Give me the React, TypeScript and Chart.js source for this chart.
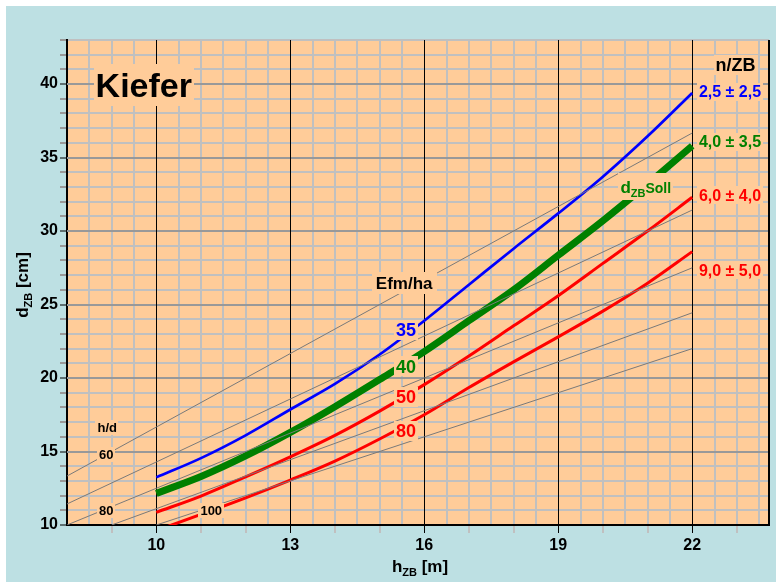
import React, { useEffect, useRef } from 'react';
import { Chart, registerables } from 'chart.js';

Chart.register(...registerables);

// Stand height h_ZB [m] at which the target diameter curves are given
const heights = [10, 11, 12, 13, 14, 15, 16, 17, 18, 19, 20, 21, 22];

// Target diameter d_ZB [cm] per number of future crop trees (n/ZB)
const d25 = [13.24, 14.55, 16.1, 17.86, 19.6, 21.6, 23.9, 26.35, 28.8, 31.2, 33.7, 36.45, 39.4];
const d40 = [12.15, 13.3, 14.7, 16.3, 18.05, 19.9, 21.8, 23.9, 26.0, 28.35, 30.7, 33.2, 35.8];
const d60 = [10.86, 11.97, 13.28, 14.64, 16.1, 17.75, 19.55, 21.5, 23.55, 25.6, 27.8, 30.0, 32.3];
const d90 = [9.62, 10.72, 11.85, 13.06, 14.35, 15.85, 17.5, 19.35, 21.1, 22.8, 24.55, 26.45, 28.6];

// Lines of constant slenderness h/d
const hdRatios = [60, 70, 80, 90, 100];
const hdStartH = [8, 8, 8, 9, 10];
const hdStartD = [13.33, 11.43, 10, 10, 10];
const hdEndH = [22, 22, 22, 22, 22];
const hdEndD = [36.67, 31.43, 27.5, 24.44, 22];

// Axis ticks
const xLabelTicks = [10, 13, 16, 19, 22];
const yLabelTicks = [10, 15, 20, 25, 30, 35, 40];

// Legend texts
const nzbTitle = 'n/ZB';
const nzbLabels = ['2,5 ± 2,5', '4,0 ± 3,5', '6,0 ± 4,0', '9,0 ± 5,0'];
const efmTitle = 'Efm/ha';
const efmLabels = ['35', '40', '50', '80'];
const hdTitle = 'h/d';

const FONT = '"Liberation Sans", Arial, Helvetica, sans-serif';
const PEACH = '#FFCC99';
const SKY = '#BDE0E3';
const BLUE = '#0000FF';
const GREEN = '#008000';
const RED = '#FF0000';

type Part = { text: string; size: number; dy?: number };
type Note = {
  h: number;
  d: number;
  parts: Part[];
  color: string;
  boxH: number;
  align?: 'center' | 'left';
  padX?: number;
};

const notes: Note[] = [
  { h: 9.72, d: 39.96, parts: [{ text: 'Kiefer', size: 34 }], color: '#000', boxH: 42 },
  { h: 22.97, d: 41.32, parts: [{ text: nzbTitle, size: 18 }], color: '#000', boxH: 20 },
  { h: 22.15, d: 39.48, parts: [{ text: nzbLabels[0], size: 16 }], color: BLUE, boxH: 18, align: 'left' },
  { h: 22.15, d: 36.09, parts: [{ text: nzbLabels[1], size: 16 }], color: GREEN, boxH: 18, align: 'left' },
  { h: 22.15, d: 32.42, parts: [{ text: nzbLabels[2], size: 16 }], color: RED, boxH: 18, align: 'left' },
  { h: 22.15, d: 27.32, parts: [{ text: nzbLabels[3], size: 16 }], color: RED, boxH: 18, align: 'left' },
  {
    h: 20.96,
    d: 33.0,
    parts: [
      { text: 'd', size: 17 },
      { text: 'ZB', size: 11, dy: 4 },
      { text: 'Soll', size: 14 },
    ],
    color: GREEN,
    boxH: 27,
  },
  { h: 15.55, d: 26.5, parts: [{ text: efmTitle, size: 17 }], color: '#000', boxH: 22, padX: 4 },
  { h: 15.59, d: 23.28, parts: [{ text: efmLabels[0], size: 18 }], color: BLUE, boxH: 20 },
  { h: 15.59, d: 20.8, parts: [{ text: efmLabels[1], size: 18 }], color: GREEN, boxH: 20 },
  { h: 15.59, d: 18.73, parts: [{ text: efmLabels[2], size: 18 }], color: RED, boxH: 20 },
  { h: 15.59, d: 16.42, parts: [{ text: efmLabels[3], size: 18 }], color: RED, boxH: 20 },
  { h: 8.9, d: 16.62, parts: [{ text: hdTitle, size: 13 }], color: '#000', boxH: 15 },
  { h: 8.88, d: 14.79, parts: [{ text: String(hdRatios[0]), size: 13 }], color: '#000', boxH: 15 },
  { h: 8.88, d: 11.02, parts: [{ text: String(hdRatios[2]), size: 13 }], color: '#000', boxH: 15 },
  { h: 11.23, d: 11.02, parts: [{ text: String(hdRatios[4]), size: 13 }], color: '#000', boxH: 15 },
];

const isMajorX = (v: number) => xLabelTicks.includes(v);

function drawParts(ctx: CanvasRenderingContext2D, x: number, baseline: number, parts: Part[]) {
  let cx = x;
  for (const p of parts) {
    ctx.font = `bold ${p.size}px ${FONT}`;
    ctx.fillText(p.text, cx, baseline + (p.dy || 0));
    cx += ctx.measureText(p.text).width;
  }
}

function partsWidth(ctx: CanvasRenderingContext2D, parts: Part[]) {
  let w = 0;
  for (const p of parts) {
    ctx.font = `bold ${p.size}px ${FONT}`;
    w += ctx.measureText(p.text).width;
  }
  return w;
}

const backgroundPlugin = {
  id: 'plotBackground',
  beforeDraw(chart: any) {
    const { ctx, chartArea } = chart;
    ctx.save();
    ctx.fillStyle = PEACH;
    ctx.fillRect(chartArea.left, chartArea.top, chartArea.right - chartArea.left, chartArea.bottom - chartArea.top);
    ctx.restore();
  },
  // emphasised grid lines on top of the light mesh
  beforeDatasetsDraw(chart: any) {
    const { ctx, chartArea } = chart;
    const xs = chart.scales.x;
    const ys = chart.scales.y;
    ctx.save();
    ctx.fillStyle = '#999999';
    for (const v of yLabelTicks) {
      if (v === 10) continue;
      const y = Math.round(ys.getPixelForValue(v));
      ctx.fillRect(chartArea.left, y - 1, chartArea.right - chartArea.left, 2);
    }
    ctx.fillStyle = '#000';
    for (const v of xLabelTicks) {
      const x = Math.round(xs.getPixelForValue(v));
      ctx.fillRect(x, chartArea.top, 1, chartArea.bottom - chartArea.top);
    }
    ctx.restore();
  },
};

const notesPlugin = {
  id: 'boxedNotes',
  afterDatasetsDraw(chart: any) {
    const { ctx } = chart;
    const xs = chart.scales.x;
    const ys = chart.scales.y;
    ctx.save();
    ctx.textAlign = 'left';
    ctx.textBaseline = 'alphabetic';
    for (const n of notes) {
      const px = xs.getPixelForValue(n.h);
      const py = ys.getPixelForValue(n.d);
      const w = partsWidth(ctx, n.parts);
      const padX = n.padX ?? 2;
      const left = n.align === 'left' ? px : px - w / 2;
      ctx.fillStyle = PEACH;
      ctx.fillRect(Math.round(left - padX), Math.round(py - n.boxH / 2), Math.round(w + 2 * padX), n.boxH);
      ctx.fillStyle = n.color;
      const main = n.parts[0].size;
      drawParts(ctx, left, py + main * 0.36, n.parts);
    }
    ctx.restore();
  },
  afterDraw(chart: any) {
    const { ctx, chartArea } = chart;
    ctx.save();
    // right frame line
    ctx.strokeStyle = '#000';
    ctx.lineWidth = 2;
    ctx.beginPath();
    ctx.moveTo(chartArea.right, chartArea.top);
    ctx.lineTo(chartArea.right, chartArea.bottom + 1);
    ctx.stroke();

    // axis titles
    ctx.fillStyle = '#000';
    ctx.textBaseline = 'alphabetic';
    const xParts: Part[] = [
      { text: 'h', size: 17 },
      { text: 'ZB', size: 11, dy: 4 },
      { text: ' [m]', size: 17 },
    ];
    const xw = partsWidth(ctx, xParts);
    drawParts(ctx, 414 - xw / 2, 566, xParts);

    const yParts: Part[] = [
      { text: 'd', size: 17 },
      { text: 'ZB', size: 11, dy: 4 },
      { text: ' [cm]', size: 17 },
    ];
    const yw = partsWidth(ctx, yParts);
    ctx.translate(22, 279);
    ctx.rotate(-Math.PI / 2);
    drawParts(ctx, -yw / 2, 0, yParts);
    ctx.restore();
  },
};

function curve(values: number[], color: string, width: number) {
  return {
    data: heights.map((h, i) => ({ x: h, y: values[i] })),
    borderColor: color,
    borderWidth: width,
    pointRadius: 0,
    cubicInterpolationMode: 'monotone' as const,
    fill: false,
  };
}

export default function App() {
  const ref = useRef<HTMLCanvasElement>(null);

  useEffect(() => {
    const hdSets = hdRatios.map((r, i) => ({
      label: `h/d ${r}`,
      data: [
        { x: hdStartH[i], y: hdStartD[i] },
        { x: hdEndH[i], y: hdEndD[i] },
      ],
      borderColor: '#7a7a7a',
      borderWidth: 1,
      pointRadius: 0,
      fill: false,
    }));

    const chart = new Chart(ref.current!, {
      type: 'line',
      data: {
        datasets: [
          ...hdSets,
          curve(d90, RED, 3),
          curve(d60, RED, 3),
          curve(d40, GREEN, 7),
          curve(d25, BLUE, 2.7),
        ],
      },
      options: {
        responsive: false,
        animation: false,
        devicePixelRatio: 1,
        layout: { padding: { left: 0, top: 34, right: 7, bottom: 0 } },
        plugins: { legend: { display: false }, tooltip: { enabled: false } },
        scales: {
          x: {
            type: 'linear',
            min: 8,
            max: 23.72,
            afterFit(axis: any) {
              axis.height = 57;
            },
            ticks: {
              stepSize: 0.5,
              includeBounds: false,
              autoSkip: false,
              maxRotation: 0,
              padding: 3,
              color: '#000',
              font: { family: FONT, size: 16, weight: 'bold' },
              callback: (v: any) => (isMajorX(Number(v)) ? String(v) : ''),
            },
            grid: {
              color: (c: any) => {
                const v = c.tick?.value;
                if (v === 8) return 'rgba(0,0,0,0)';
                return isMajorX(v) ? '#000' : '#c0c0c0';
              },
              lineWidth: (c: any) => (isMajorX(c.tick?.value) ? 1 : 2),
              tickColor: (c: any) => {
                const v = c.tick?.value;
                if (isMajorX(v)) return '#000';
                return Number.isInteger(v) && v !== 8 ? '#c0c0c0' : 'rgba(0,0,0,0)';
              },
              tickWidth: (c: any) => (isMajorX(c.tick?.value) ? 1 : 2),
              tickLength: 8,
            },
            border: { color: '#000', width: 2 },
          },
          y: {
            type: 'linear',
            min: 10,
            max: 43,
            afterFit(axis: any) {
              axis.width = 61;
            },
            ticks: {
              stepSize: 1,
              includeBounds: false,
              autoSkip: false,
              padding: 2,
              color: '#000',
              font: { family: FONT, size: 16, weight: 'bold' },
              callback: (v: any) => (yLabelTicks.includes(Number(v)) ? String(v) : ''),
            },
            grid: {
              color: (c: any) => {
                const v = c.tick?.value;
                if (v === 10) return 'rgba(0,0,0,0)';
                return v % 5 === 0 ? '#999999' : '#c0c0c0';
              },
              lineWidth: 2,
              tickColor: (c: any) => (c.tick?.value % 5 === 0 ? '#000' : '#999999'),
              tickWidth: (c: any) => (c.tick?.value % 5 === 0 ? 1 : 2),
              tickLength: 7,
            },
            border: { color: '#000', width: 2 },
          },
        },
      },
      plugins: [backgroundPlugin, notesPlugin],
    } as any);

    return () => chart.destroy();
  }, []);

  return (
    <div
      style={{
        position: 'fixed',
        left: 6,
        top: 6,
        width: 770,
        height: 576,
        background: SKY,
      }}
    >
      <canvas ref={ref} width={770} height={576} style={{ display: 'block', width: 770, height: 576 }} />
    </div>
  );
}
